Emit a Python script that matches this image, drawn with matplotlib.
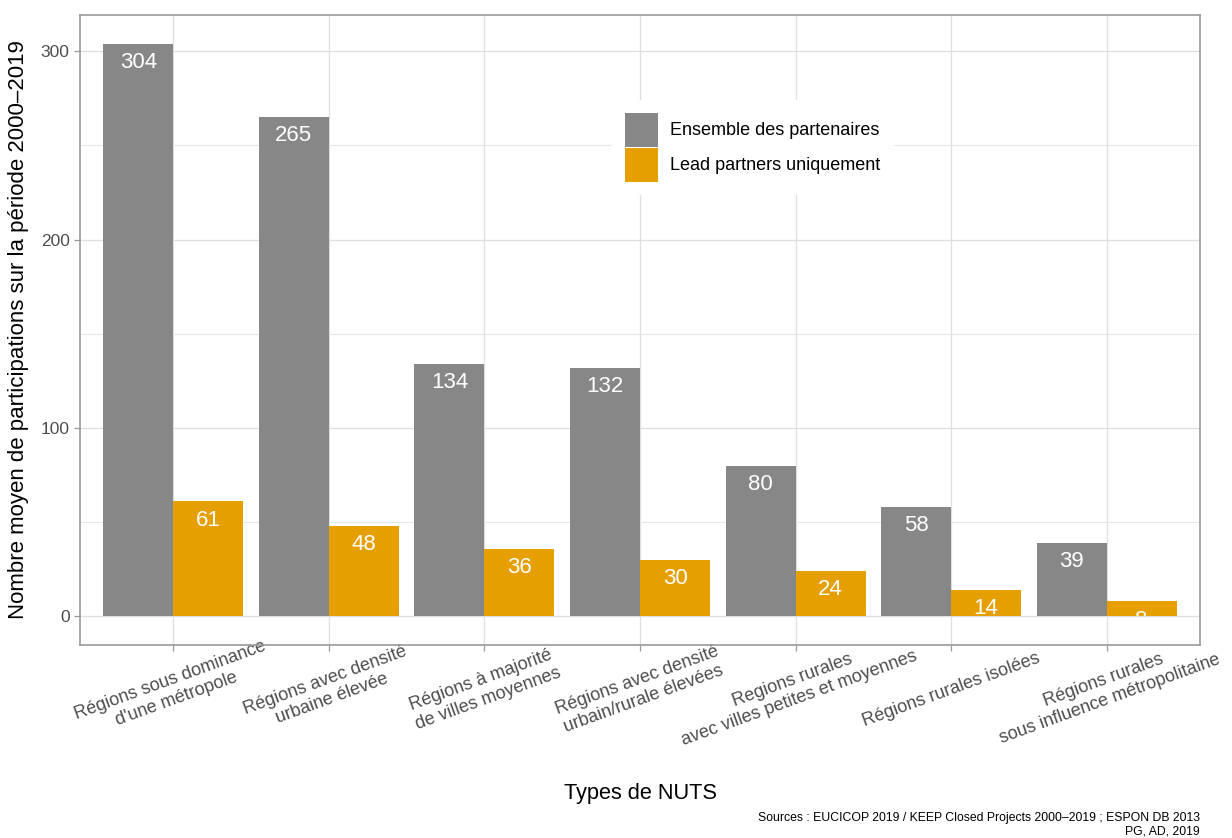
import matplotlib
matplotlib.use("Agg")
import matplotlib.pyplot as plt
import numpy as np
from matplotlib.patches import Rectangle

plt.rcParams['font.family'] = ['Liberation Sans', 'DejaVu Sans']

categories = [
    "Régions sous dominance\nd'une métropole",
    "Régions avec densité\nurbaine élevée",
    "Régions à majorité\nde villes moyennes",
    "Régions avec densité\nurbain/rurale élevées",
    "Regions rurales\navec villes petites et moyennes",
    "Régions rurales isolées",
    "Régions rurales\nsous influence métropolitaine",
]
ensemble = [304, 265, 134, 132, 80, 58, 39]
lead = [61, 48, 36, 30, 24, 14, 8]
series_names = ["Ensemble des partenaires", "Lead partners uniquement"]
colors = ["#878787", "#E69F00"]

fig = plt.figure(figsize=(12.32, 8.38), dpi=100)
ax = fig.add_axes([80/1232, 1-645/838, 1120/1232, 630/838])

x = np.arange(1, len(categories) + 1)
w = 0.45
b1 = ax.bar(x - w/2, ensemble, width=w, color=colors[0], label=series_names[0], zorder=2)
b2 = ax.bar(x + w/2, lead, width=w, color=colors[1], label=series_names[1], zorder=2)

clip_rect = Rectangle((0, 0), 10, 1000, transform=ax.transData)
for bars, vals in ((b1, ensemble), (b2, lead)):
    for rect, v in zip(bars, vals):
        t = ax.annotate(str(v), xy=(rect.get_x() + rect.get_width()/2, v),
                        xytext=(0, -6), textcoords='offset points',
                        ha='center', va='top', color='white', fontsize=16, zorder=3)
        t.set_clip_path(clip_rect)

ax.set_xlim(0.4, 7.6)
ax.set_ylim(-15.2, 319.2)
ax.set_yticks([0, 100, 200, 300])
ax.set_yticks([50, 150, 250], minor=True)
ax.set_xticks(x)
ax.set_xticklabels(categories, rotation=20, ha='center', va='center', linespacing=1.2)
ax.grid(True, which='major', color='#dedede', linewidth=0.9, zorder=0)
ax.grid(True, which='minor', axis='y', color='#e6e6e6', linewidth=0.8, zorder=0)
ax.set_axisbelow(True)
ax.tick_params(axis='both', which='major', length=4, color='#999999', labelcolor='#4d4d4d', width=0.9)
ax.tick_params(axis='x', labelsize=13, pad=28)
ax.tick_params(axis='y', labelsize=12.5)
ax.tick_params(axis='y', which='minor', length=0)
for s in ax.spines.values():
    s.set_color('#999999')
    s.set_linewidth(1.2)

ax.set_xlabel("Types de NUTS", fontsize=15.7)
ax.set_ylabel("Nombre moyen de participations sur la période 2000–2019", fontsize=16, labelpad=8)
ax.xaxis.set_label_coords(0.5, -0.219)

leg = ax.legend(loc='upper left', bbox_to_anchor=(0.475, 0.865), borderaxespad=0,
                frameon=True, fancybox=False, edgecolor='white', facecolor='white', framealpha=1,
                fontsize=13, handlelength=1.83, handleheight=2.53, labelspacing=0.05,
                handletextpad=0.68, borderpad=0.7)
leg.set_zorder(5)

fig.text(1200/1232, 1-818/838, "Sources : EUCICOP 2019 / KEEP Closed Projects 2000–2019 ; ESPON DB 2013",
         ha='right', va='center', fontsize=8.8)
fig.text(1200/1232, 1-831/838, "PG, AD, 2019", ha='right', va='center', fontsize=8.8)

fig.savefig("out.png", dpi=100)
